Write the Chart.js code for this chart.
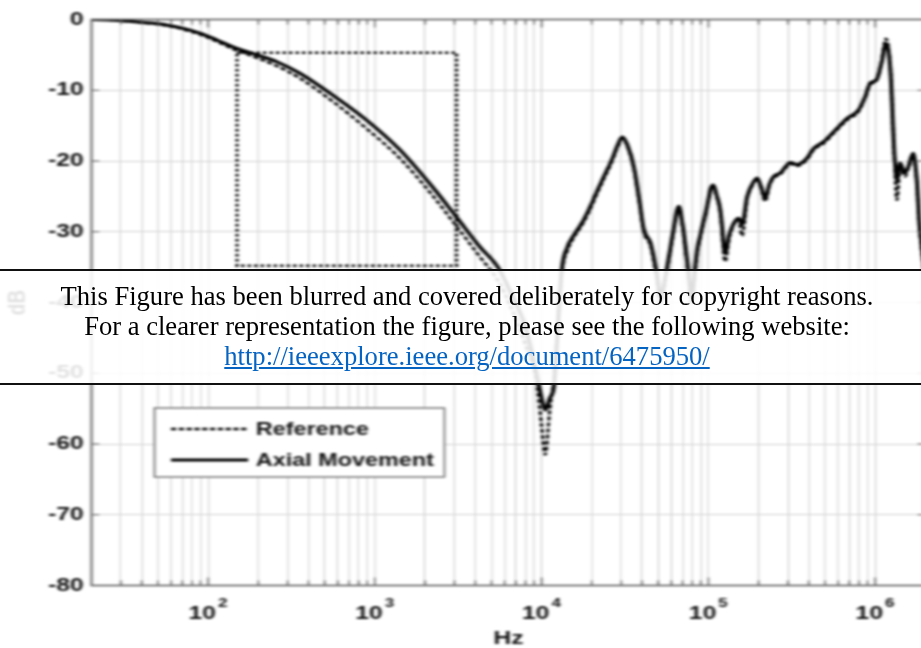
<!DOCTYPE html>
<html lang="en">
<head>
<meta charset="utf-8">
<title>Frequency response: Reference vs Axial Movement</title>
<script src="https://cdn.jsdelivr.net/npm/chart.js@4.4.1/dist/chart.umd.min.js"></script>
<style>
  html, body { margin: 0; padding: 0; background: #fff; width: 921px; height: 648px; overflow: hidden; }
  /* the plot is drawn narrow and widened horizontally, with a soft focus */
  #plot { position: absolute; left: 0; top: 0; width: 714px; height: 648px;
          transform: scaleX(1.3); transform-origin: 0 0; filter: blur(1.1px); }
  #plot canvas { display: block; }
  #notice { position: absolute; left: 0; top: 269px; width: 921px; box-sizing: border-box;
            padding: 10px 0 11.5px 13px; border-top: 2px solid #111; border-bottom: 2px solid #111;
            background: rgba(255,255,255,0.87); white-space: nowrap;
            font-family: "Liberation Serif", "Times New Roman", serif; font-size: 26.6px; line-height: 30px;
            text-align: center; color: #000; }
  #notice a { color: #0563c1; text-decoration: underline; }
</style>
</head>
<body>
<div id="plot"><canvas id="chart" width="714" height="648"></canvas></div>
<div id="notice">This Figure has been blurred and covered deliberately for copyright reasons.<br>For a clearer representation the figure, please see the following website:<br><a href="http://ieeexplore.ieee.org/document/6475950/">http://ieeexplore.ieee.org/document/6475950/</a></div>
<script>
// Low band (low-pass roll-off and the notch near 10 kHz), Hz
const lowBandHz = [20, 28, 36, 45, 57, 71, 90, 113, 142, 190, 260, 355, 560, 890, 1410, 2240,
  3080, 4250, 5500, 6500, 8000, 9300, 10000, 10500, 11200, 11850, 12500];
const referenceLowDb = [0, -0.1, -0.35, -0.55, -0.9, -1.4, -2.15, -3.1, -4.2, -5.3, -6.6, -8.3,
  -11.6, -15.4, -19.6, -25.0, -29.2, -33.5, -37.0, -40.5, -46.0, -51.0, -57.5, -61.5, -55.0, -50.5, -43.5];
const axialLowDb = [0, -0.1, -0.3, -0.5, -0.8, -1.25, -1.95, -2.9, -3.9, -4.9, -6.0, -7.6,
  -10.7, -14.2, -18.4, -23.8, -27.9, -32.1, -35.1, -38.5, -43.5, -50.0, -53.5, -55.2, -53.5, -51.9, -43.5];

// High band (resonances up to 2 MHz), Hz
const highBandHz = [13200, 14300, 15500, 17800, 19800, 21000, 23400, 26500, 28500,
  30400, 32500, 35700, 38500, 41000, 45000, 48600, 51700, 56600, 61000,
  66400, 69500, 72900, 76000, 79100, 85600, 90000, 98000, 103000, 107000,
  112000, 118000, 126000, 133000, 142000, 152000, 159000, 171000, 183000, 196000,
  208000, 219000, 232000, 246000, 270000, 290000, 309000, 340000, 390000, 428000,
  490000, 590000, 677000, 795000, 871000, 933000, 1020000, 1090000, 1160000, 1230000,
  1310000, 1350000, 1410000, 1510000, 1580000, 1690000, 1770000, 1850000, 2000000];
const referenceHighDb = [-35.8, -32.6, -30.9, -28.7, -26.5, -25.1, -22.7, -20.0, -18.0,
  -16.8, -17.8, -21.0, -25.8, -30.0, -32.0, -36.0, -40.0, -35.3, -30.8,
  -26.6, -28.8, -32.5, -36.5, -40.0, -33.0, -30.5, -26.8, -24.2, -23.5,
  -25.0, -27.3, -34.2, -31.0, -29.0, -28.3, -30.6, -25.3, -23.5, -22.5,
  -24.0, -25.7, -23.5, -22.4, -21.9, -21.0, -20.4, -20.7, -19.8, -18.4,
  -17.5, -15.6, -14.2, -13.0, -11.0, -9.2, -8.6, -6.0, -2.7, -6.5,
  -20.5, -25.5, -21.0, -22.2, -21.0, -19.2, -22.5, -29.8, -36.5];
const axialHighDb = [-35.4, -32.1, -30.6, -28.4, -26.2, -24.8, -22.4, -19.7, -17.8,
  -16.6, -17.6, -20.8, -25.5, -29.7, -31.6, -35.4, -39.0, -34.9, -30.5,
  -26.4, -28.5, -32.1, -35.8, -39.0, -32.6, -30.2, -26.5, -24.0, -23.4,
  -24.8, -27.0, -33.0, -30.5, -28.8, -28.1, -29.0, -25.0, -23.3, -22.4,
  -23.8, -25.3, -23.3, -22.2, -21.7, -20.8, -20.2, -20.5, -19.6, -18.2,
  -17.3, -15.4, -14.0, -12.8, -10.9, -9.0, -8.5, -6.2, -3.4, -6.7,
  -19.8, -22.7, -20.3, -21.7, -20.8, -18.9, -22.2, -29.3, -36.0];

// Region outlined with a dotted box (Hz, dB)
const zoomBoxHz = [149, 3090];
const zoomBoxDb = [-4.7, -34.8];

// Axis ranges and ticks
const freqRangeHz = [20, 2e6];
const dbRange = [-80, 0];
const dbTickStep = 10;
const decadeExponents = [1, 2, 3, 4, 5, 6];
const decadeMultipliers = [1, 2, 3, 4, 5, 6, 7, 8, 9];
const decadeBase = '10';

const FONT = '"Liberation Sans", Arial, Helvetica, sans-serif';
const INK = '#000';
const LABEL = '#111';
const GRID = '#d2d2d2';
const FRAME = '#5e5e5e';

const toPoints = (hz, db) => hz.map((f, i) => ({ x: f, y: db[i] }));
const referencePoints = toPoints(lowBandHz.concat(highBandHz), referenceLowDb.concat(referenceHighDb));
const axialPoints = toPoints(lowBandHz.concat(highBandHz), axialLowDb.concat(axialHighDb));

const decadeExponent = v => {
  const e = Math.log10(v);
  const r = Math.round(e);
  return Math.abs(e - r) < 1e-9 ? r : null;
};

// Box around the plot area with short inward tick marks on all four sides
const framePlugin = {
  id: 'frame',
  afterDatasetsDraw(chart) {
    const { ctx, chartArea: a, scales: { x, y } } = chart;
    ctx.save();
    ctx.strokeStyle = FRAME;
    ctx.lineWidth = 1.6;
    ctx.strokeRect(a.left, a.top, a.right - a.left, a.bottom - a.top);
    ctx.lineWidth = 1.2;
    ctx.beginPath();
    x.ticks.forEach(t => {
      const px = x.getPixelForValue(t.value);
      if (px <= a.left + 1 || px >= a.right - 1) return;
      const len = decadeExponent(t.value) !== null ? 8 : 5;
      ctx.moveTo(px, a.bottom); ctx.lineTo(px, a.bottom - len);
      ctx.moveTo(px, a.top); ctx.lineTo(px, a.top + len);
    });
    y.ticks.forEach(t => {
      const py = y.getPixelForValue(t.value);
      if (py <= a.top + 1 || py >= a.bottom - 1) return;
      ctx.moveTo(a.left, py); ctx.lineTo(a.left + 6, py);
      ctx.moveTo(a.right, py); ctx.lineTo(a.right - 6, py);
    });
    ctx.stroke();
    ctx.restore();
  }
};

// Decade labels on the frequency axis, written as 10 with a raised exponent
const decadeLabelPlugin = {
  id: 'decadeLabels',
  afterDraw(chart) {
    const { ctx, chartArea: a, scales: { x } } = chart;
    ctx.save();
    ctx.fillStyle = LABEL;
    ctx.textBaseline = 'alphabetic';
    ctx.textAlign = 'left';
    x.ticks.forEach(t => {
      const e = decadeExponent(t.value);
      if (e === null) return;
      const px = x.getPixelForValue(t.value);
      if (px < a.left || px > a.right) return;
      ctx.font = 'bold 19px ' + FONT;
      const baseW = ctx.measureText(decadeBase).width;
      const baseLeft = px - 4.5 - baseW / 2;
      ctx.fillText(decadeBase, baseLeft, a.bottom + 33.5);
      ctx.font = 'bold 13px ' + FONT;
      ctx.fillText(String(e), baseLeft + baseW + 1.5, a.bottom + 21);
    });
    ctx.restore();
  }
};

// Dotted rectangle marking the roll-off region
const zoomBoxPlugin = {
  id: 'zoomBox',
  afterDatasetsDraw(chart) {
    const { ctx, scales: { x, y } } = chart;
    const x0 = x.getPixelForValue(zoomBoxHz[0]);
    const x1 = x.getPixelForValue(zoomBoxHz[1]);
    const y0 = y.getPixelForValue(zoomBoxDb[0]);
    const y1 = y.getPixelForValue(zoomBoxDb[1]);
    ctx.save();
    ctx.strokeStyle = INK;
    ctx.lineWidth = 2.6;
    ctx.setLineDash([2.6, 2.4]);
    ctx.strokeRect(x0, y0, x1 - x0, y1 - y0);
    ctx.restore();
  }
};

// Boxed legend inside the plot area
const insetLegendPlugin = {
  id: 'insetLegend',
  afterDraw(chart) {
    const { ctx, chartArea: a } = chart;
    const left = a.left + 48.4, top = a.top + 388.5, w = 223, h = 69;
    ctx.save();
    ctx.fillStyle = '#fff';
    ctx.fillRect(left, top, w, h);
    ctx.strokeStyle = '#777';
    ctx.lineWidth = 1.5;
    ctx.strokeRect(left, top, w, h);
    ctx.font = 'bold 18px ' + FONT;
    ctx.textBaseline = 'middle';
    chart.data.datasets.forEach((ds, i) => {
      const cy = top + 21 + i * 31;
      ctx.strokeStyle = ds.borderColor;
      ctx.lineWidth = ds.borderWidth;
      ctx.setLineDash(ds.borderDash || []);
      ctx.beginPath();
      ctx.moveTo(left + 12.7, cy);
      ctx.lineTo(left + 72, cy);
      ctx.stroke();
      ctx.setLineDash([]);
      ctx.fillStyle = LABEL;
      ctx.fillText(ds.label, left + 78, cy + 1);
    });
    ctx.restore();
  }
};

new Chart(document.getElementById('chart'), {
  type: 'line',
  data: {
    datasets: [
      { label: 'Reference', data: referencePoints, borderColor: INK, borderWidth: 2.4,
        borderDash: [4, 2], pointRadius: 0, cubicInterpolationMode: 'monotone', fill: false },
      { label: 'Axial Movement', data: axialPoints, borderColor: INK, borderWidth: 3,
        pointRadius: 0, cubicInterpolationMode: 'monotone', fill: false }
    ]
  },
  options: {
    responsive: false,
    animation: false,
    devicePixelRatio: 1,
    layout: { padding: { top: 19.5, right: 2.2, left: 0, bottom: 0 } },
    plugins: { legend: { display: false }, tooltip: { enabled: false } },
    scales: {
      x: {
        type: 'logarithmic',
        min: freqRangeHz[0],
        max: freqRangeHz[1],
        afterBuildTicks(scale) {
          const ticks = [];
          decadeExponents.forEach(e => decadeMultipliers.forEach(m => {
            const v = m * Math.pow(10, e);
            if (v >= freqRangeHz[0] && v <= freqRangeHz[1]) ticks.push({ value: v });
          }));
          scale.ticks = ticks;
        },
        afterFit(scale) {
          scale.height = 62.5;
          scale.paddingLeft = 0;
          scale.paddingRight = 0;
        },
        grid: { color: GRID, lineWidth: 1, drawTicks: false },
        border: { display: false },
        ticks: { autoSkip: false, maxRotation: 0, minRotation: 0, callback: () => '' },
        title: { display: true, text: 'Hz', color: LABEL, padding: 0,
                 font: { family: FONT, size: 19, weight: 'bold', lineHeight: 1 } }
      },
      y: {
        min: dbRange[0],
        max: dbRange[1],
        afterFit(scale) {
          scale.width = 70.4;
          scale.paddingTop = 0;
          scale.paddingBottom = 0;
        },
        grid: { color: GRID, lineWidth: 1, drawTicks: false },
        border: { display: false },
        ticks: { stepSize: dbTickStep, padding: 6, color: LABEL,
                 font: { family: FONT, size: 19, weight: 'bold' },
                 callback: v => String(v) },
        title: { display: true, text: 'dB', color: LABEL, padding: { top: 4, bottom: 0 },
                 font: { family: FONT, size: 19, weight: 'bold', lineHeight: 1 } }
      }
    }
  },
  plugins: [zoomBoxPlugin, framePlugin, decadeLabelPlugin, insetLegendPlugin]
});
</script>
</body>
</html>
